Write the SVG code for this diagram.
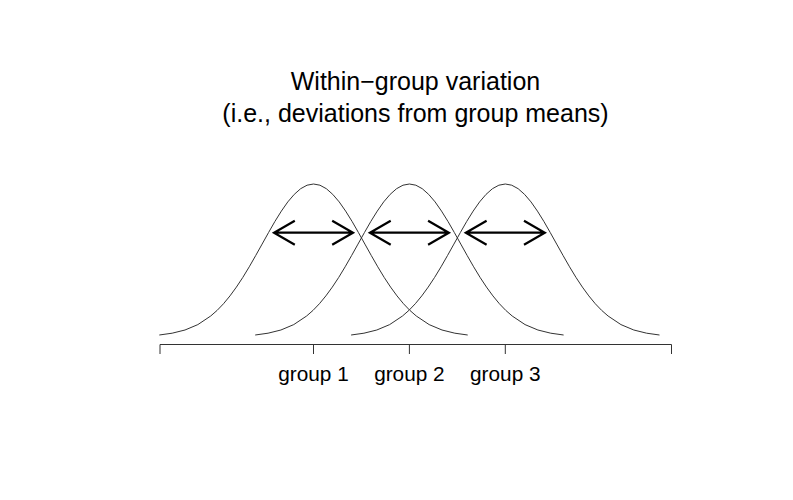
<svg xmlns="http://www.w3.org/2000/svg" xmlns:xlink="http://www.w3.org/1999/xlink" width="793" height="500" viewBox="0 0 793 500">
<style>
.title{font-family:"Liberation Sans",Arial,sans-serif;font-size:25px;fill:#000;text-anchor:middle}
.lab{font-family:"Liberation Sans",Arial,sans-serif;font-size:20.8px;fill:#000;text-anchor:middle}
.curve{fill:none;stroke:#333;stroke-width:1}
.axis{fill:none;stroke:#333;stroke-width:1}
.arr{fill:none;stroke:#000;stroke-width:2.2;stroke-linejoin:miter}
</style>
<defs>
<path id="bell" d="M-154.2,335 L-141.35,333.2 L-128.5,330 L-115.65,324.6 L-102.8,316 L-96.38,310.4 L-89.95,303.7 L-83.53,295.9 L-77.1,287.1 L-70.68,277.4 L-64.25,266.8 L-57.83,255.6 L-51.4,244.1 L-44.98,232.6 L-38.55,221.4 L-32.13,211.1 L-25.7,201.9 L-19.28,194.4 L-12.85,188.7 L-6.43,185.2 L0,184 L6.43,185.2 L12.85,188.7 L19.28,194.4 L25.7,201.9 L32.13,211.1 L38.55,221.4 L44.98,232.6 L51.4,244.1 L57.83,255.6 L64.25,266.8 L70.68,277.4 L77.1,287.1 L83.53,295.9 L89.95,303.7 L96.38,310.4 L102.8,316 L115.65,324.6 L128.5,330 L141.35,333.2 L154.2,335"/>
<path id="dbl" d="M-39.5,0 H39.5 M-18.7,-12 L-39.5,0 L-18.7,12 M18.7,-12 L39.5,0 L18.7,12"/>
</defs>
<g id="title">
<text class="title" x="415.5" y="90">Within−group variation</text>
<text class="title" x="415.5" y="121.5">(i.e., deviations from group means)</text>
</g>
<g id="curves">
<use id="curve1" xlink:href="#bell" href="#bell" class="curve" transform="translate(313.5,0)"/>
<use id="curve2" xlink:href="#bell" href="#bell" class="curve" transform="translate(409.4,0)"/>
<use id="curve3" xlink:href="#bell" href="#bell" class="curve" transform="translate(505.3,0)"/>
</g>
<g id="axis">
<path class="axis" d="M160,344.5 H671.5 M160,344.5 V354 M313.5,344.5 V354 M409.4,344.5 V354 M505.3,344.5 V354 M671.5,344.5 V354"/>
<text class="lab" x="313.5" y="380.5">group 1</text>
<text class="lab" x="409.4" y="380.5">group 2</text>
<text class="lab" x="505.3" y="380.5">group 3</text>
</g>
<g id="connectors">
<use xlink:href="#dbl" href="#dbl" class="arr" transform="translate(313.5,232.7)"/>
<use xlink:href="#dbl" href="#dbl" class="arr" transform="translate(409.4,232.7)"/>
<use xlink:href="#dbl" href="#dbl" class="arr" transform="translate(505.3,232.7)"/>
</g>
</svg>
